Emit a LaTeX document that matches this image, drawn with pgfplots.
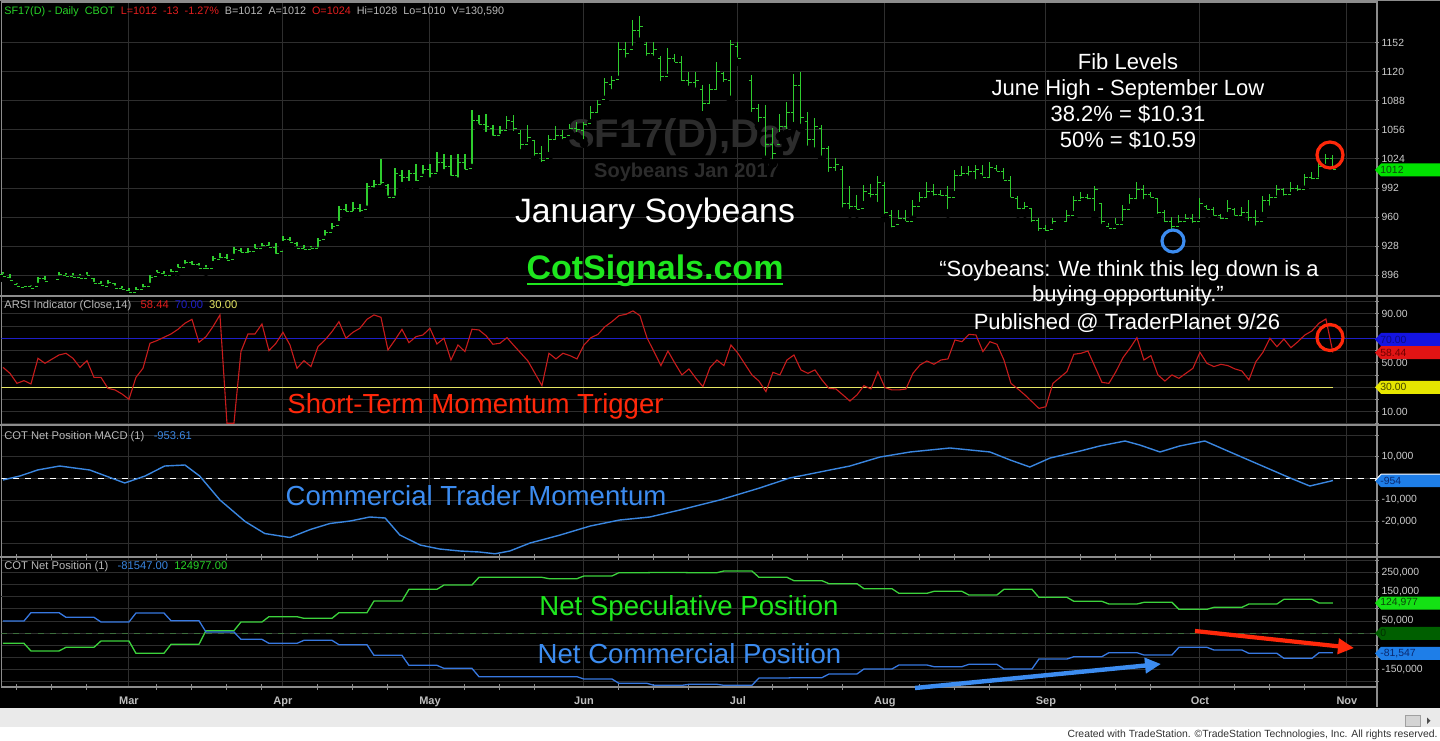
\documentclass[border=0pt]{standalone}
\usepackage{pgfplots}
\pgfplotsset{compat=1.18}
\usepackage{pgfplotstable}
\usepackage{fontspec}
\setmainfont{Liberation Sans}
\usetikzlibrary{arrows.meta}

\definecolor{barg}{RGB}{46,204,46}
\definecolor{gridc}{RGB}{46,46,46}
\definecolor{framec}{RGB}{140,140,140}
\definecolor{tickc}{RGB}{205,205,205}
\definecolor{hgreen}{RGB}{40,210,40}
\definecolor{hred}{RGB}{228,30,30}
\definecolor{hgray}{RGB}{185,185,185}
\definecolor{arsired}{RGB}{200,28,28}
\definecolor{arsiblue}{RGB}{30,30,200}
\definecolor{arsiyel}{RGB}{232,232,100}
\definecolor{macdblue}{RGB}{58,134,224}
\definecolor{cotgreen}{RGB}{60,210,60}
\definecolor{cotblue}{RGB}{55,120,225}
\definecolor{zgreen}{RGB}{60,110,60}
\definecolor{wm}{RGB}{44,44,44}
\definecolor{anred}{RGB}{255,40,10}
\definecolor{anblue}{RGB}{60,140,240}
\definecolor{angreen}{RGB}{30,230,30}
\definecolor{monthc}{RGB}{190,190,190}
\definecolor{stripc}{RGB}{234,234,234}
\definecolor{sbord}{RGB}{160,160,160}
\definecolor{thumbc}{RGB}{212,212,212}
\definecolor{credc}{RGB}{50,50,50}
\definecolor{tgA}{RGB}{0,225,0}\definecolor{ttA}{RGB}{15,70,15}
\definecolor{tgB}{RGB}{20,20,225}\definecolor{ttB}{RGB}{10,10,130}
\definecolor{tgC}{RGB}{225,20,20}\definecolor{ttC}{RGB}{110,0,0}
\definecolor{tgD}{RGB}{230,230,0}\definecolor{ttD}{RGB}{70,70,0}
\definecolor{tgE}{RGB}{30,126,232}\definecolor{ttE}{RGB}{10,40,110}
\definecolor{tgF}{RGB}{20,225,20}\definecolor{ttF}{RGB}{10,70,10}
\definecolor{tgG}{RGB}{0,95,0}\definecolor{ttG}{RGB}{0,45,0}

\pgfdeclareplotmark{otick}{\pgfpathmoveto{\pgfqpoint{-1.4pt}{0pt}}\pgfpathlineto{\pgfqpoint{0pt}{0pt}}\pgfusepathqstroke}
\pgfdeclareplotmark{ctick}{\pgfpathmoveto{\pgfqpoint{0pt}{0pt}}\pgfpathlineto{\pgfqpoint{1.4pt}{0pt}}\pgfusepathqstroke}

\newcommand{\fs}[1]{\fontsize{#1}{#1}\selectfont}

\pgfplotstableread{
d hi lo op cl
0 900 893 897 895
1 897 888 894 890
2 887 882 886 884
3 885 881 883 884
4 885 880 884 882
5 894 883 884 892
6 895 886 892 889
8 900 891 891 897
9 899 892 896 895
10 898 891 895 894
11 897 891 894 893
12 900 892 893 896
13 893 884 892 887
14 890 882 887 885
15 891 882 884 888
16 887 880 887 882
17 884 877 882 880
18 882 874 879 877
19 883 875 877 880
20 886 878 880 884
21 896 883 884 894
22 902 895 895 899
23 901 893 898 896
24 903 895 896 900
25 908 900 900 905
26 913 904 905 910
27 912 903 910 908
28 909 902 908 904
29 907 900 904 903
30 917 907 904 914
31 920 910 913 916
32 919 909 916 912
33 927 915 913 924
34 926 917 923 921
35 926 916 921 922
36 930 921 922 926
37 932 923 926 929
38 933 924 929 927
39 931 915 927 920
40 939 929 922 935
41 938 929 935 932
42 933 923 931 926
43 929 921 926 924
44 928 922 924 926
45 937 922 925 934
46 946 935 935 943
47 953 942 943 950
48 972 951 951 968
49 975 962 968 966
50 977 962 966 970
51 974 961 969 967
52 998 968 968 994
53 1001 988 994 996
54 1024 992 996 998
55 997 979 995 982
56 1014 979 982 1008
57 1012 994 1006 1004
58 1012 995 1004 1008
59 1019 995 1008 1000
60 1017 1003 1005 1012
61 1019 999 1012 1008
62 1032 1005 1008 1020
63 1030 1008 1020 1016
64 1028 1001 1016 1006
65 1030 999 1006 1020
66 1030 1008 1020 1012
67 1078 1014 1014 1066
68 1072 1058 1066 1062
69 1074 1049 1062 1060
70 1061 1045 1058 1050
71 1060 1047 1050 1055
72 1071 1052 1055 1066
73 1072 1050 1065 1058
74 1056 1030 1052 1040
75 1061 1038 1040 1048
76 1045 1023 1044 1030
77 1038 1016 1030 1022
78 1050 1027 1024 1045
79 1060 1041 1045 1050
80 1056 1041 1050 1048
81 1063 1052 1050 1058
82 1065 1049 1058 1056
83 1065 1041 1055 1062
84 1082 1063 1063 1075
85 1089 1071 1075 1084
86 1113 1089 1089 1108
87 1115 1096 1106 1110
88 1153 1111 1112 1145
89 1153 1131 1145 1140
90 1177 1144 1145 1165
91 1181 1153 1165 1170
92 1153 1133 1150 1140
93 1153 1133 1140 1145
94 1137 1105 1135 1115
95 1146 1113 1115 1135
96 1140 1126 1135 1130
97 1137 1105 1130 1110
98 1120 1100 1110 1108
99 1120 1098 1108 1110
100 1105 1072 1100 1085
101 1107 1080 1085 1100
102 1131 1096 1100 1120
103 1120 1104 1118 1112
104 1155 1089 1110 1150
105 1153 1131 1148 1135
107 1116 1071 1110 1080
108 1085 1060 1080 1070
109 1083 1023 1070 1040
110 1058 1019 1040 1030
111 1074 1049 1040 1060
112 1087 1052 1060 1075
113 1118 1060 1075 1105
114 1120 1058 1105 1070
115 1076 1034 1065 1045
116 1069 1032 1045 1060
117 1061 1023 1058 1035
118 1038 1005 1035 1015
119 1025 1006 1015 1018
120 1016 966 1012 975
121 994 964 975 972
122 984 964 972 968
123 995 973 970 988
124 997 977 986 985
125 1005 972 985 998
126 999 959 995 965
127 968 944 962 950
128 968 953 952 958
129 968 951 958 955
130 979 957 955 972
131 988 972 972 982
132 999 977 982 988
133 997 979 988 985
134 990 979 985 984
135 994 964 984 982
136 1012 984 982 1006
137 1016 1001 1006 1008
138 1016 1001 1008 1010
139 1017 997 1010 1012
140 1017 1001 1008 1004
141 1021 999 1004 1015
142 1017 1006 1014 1010
143 1014 997 1010 1000
144 1005 977 1000 982
145 983 964 980 970
146 977 964 970 972
147 970 950 970 956
148 959 940 956 948
149 951 940 948 945
150 959 948 946 955
152 968 951 955 962
153 983 962 962 978
154 988 975 978 982
155 986 975 982 980
156 994 962 980 990
157 975 948 975 955
158 953 946 950 948
159 959 948 948 952
160 973 951 952 968
161 986 970 968 980
162 999 975 980 990
163 995 975 990 985
164 988 977 985 982
165 981 959 980 965
166 968 950 965 955
167 960 942 955 950
168 962 949 950 955
169 964 953 955 958
170 964 949 958 955
171 981 953 955 975
172 973 964 972 968
173 971 957 968 962
174 964 953 962 958
175 979 961 958 970
176 970 957 968 962
177 971 957 962 965
178 979 951 965 960
179 968 946 960 955
180 983 961 955 978
181 986 968 978 982
182 995 979 982 990
183 992 979 990 985
184 999 983 985 992
185 995 984 992 990
186 1008 990 990 1004
187 1010 997 1004 1002
188 1021 999 1002 1016
189 1030 1014 1016 1025
190 1028 1010 1024 1012
}\price

\pgfplotstableread{
d v
0 46.3
1 41.4
2 33.2
3 35.4
4 32.7
5 53.7
6 49.6
8 56.4
9 57.8
10 53.7
11 46.3
12 51.8
13 38.1
14 38.1
15 29.1
16 27.8
17 24.5
18 20.1
19 38.1
20 45.5
21 66.0
22 68.2
23 70.9
24 73.6
25 77.4
26 82.4
27 85.6
28 66.8
29 71.4
30 79.6
31 89.2
32 0.5
33 0.5
34 59.2
35 73.6
36 73.6
37 81.8
38 60.0
39 66.0
40 75.0
41 64.6
42 45.5
43 51.8
44 46.9
45 63.2
46 68.7
47 75.5
48 83.7
49 70.1
50 75.0
51 78.3
52 85.6
53 89.2
54 87.3
55 60.5
56 68.7
57 77.4
58 66.5
59 71.4
60 72.8
61 78.3
62 65.4
63 70.1
64 52.3
65 64.6
66 59.2
67 77.5
68 76.9
69 72.3
70 65.2
71 66.0
72 70.6
73 64.1
74 57.8
75 51.5
76 41.4
77 31.3
78 57.8
79 53.2
80 57.8
81 55.9
82 53.2
83 64.6
84 70.6
85 73.3
86 79.6
87 83.7
88 88.6
89 89.7
90 92.5
91 88.6
92 70.6
93 59.2
94 47.7
95 59.7
96 49.6
97 40.1
98 45.0
99 37.3
100 30.5
101 46.1
102 52.3
103 47.7
104 64.6
105 57.8
107 40.1
108 35.1
109 26.4
110 42.2
111 40.1
112 52.3
113 56.4
114 44.2
115 41.4
116 44.2
117 36.0
118 29.1
119 28.6
120 23.7
121 18.7
122 23.7
123 31.3
124 28.6
125 42.8
126 29.7
127 27.8
128 27.8
129 28.6
130 41.4
131 48.2
132 51.5
133 48.8
134 52.3
135 53.2
136 68.7
137 67.3
138 73.3
139 72.8
140 59.2
141 67.3
142 65.2
143 52.3
144 33.2
145 28.6
146 23.7
147 18.2
148 12.7
149 14.1
150 33.2
152 42.8
153 57.0
154 57.8
155 59.7
156 46.9
157 34.0
158 33.2
159 42.8
160 54.2
161 61.9
162 70.6
163 52.3
164 55.9
165 40.1
166 35.1
167 40.1
168 37.3
169 41.4
170 45.5
171 58.6
172 49.6
173 46.9
174 48.8
175 47.7
176 45.0
177 43.3
178 36.0
179 51.0
180 58.6
181 70.1
182 63.2
183 69.5
184 62.4
185 67.3
186 72.8
187 76.1
188 82.4
189 85.9
190 58.44
}\arsi

\pgfplotstableread{
d v
0 -700
2.4 1160
5 4000
8.1 5810
12.4 3950
17.4 -2090
20.3 1160
23.1 5810
26 6280
28.1 1160
31 -10000
34.6 -20000
37.4 -25580
41 -27440
43.9 -23720
46.7 -20930
49.6 -19770
52.4 -17900
54.6 -18370
56.7 -26280
59.6 -30930
62.4 -32790
65.3 -33720
68.1 -34190
70.3 -35000
72.4 -33720
75.3 -30000
79.6 -26280
83.9 -22090
88.1 -19300
92.4 -17900
96.7 -14650
102.4 -10000
108.1 -4420
112.4 230
116.7 3020
121 5810
125.3 10000
129.6 12330
135.3 14190
141 12330
143.9 8600
146.7 5350
149.6 9530
153.9 12790
156.7 15120
160.3 17440
162.4 15580
165.3 12330
168.1 15120
171.7 17440
175.3 12330
179.6 6280
183.9 230
186.7 -3490
190 -954
}\macd

\pgfplotstableread{
d g b
0 -42400 50100
3 -42400 50100
4 -74100 84600
8 -74100 84600
9 -58900 65300
13 -58900 65300
14 -32700 46000
18 -32700 46000
19 -83800 83200
23 -83800 83200
24 -46500 51500
28 -46500 51500
29 10100 4600
33 10100 4600
34 46000 -25800
37 46000 -25800
38 68000 -42400
42 68000 -42400
43 61200 -29900
47 61200 -29900
48 84600 -47900
52 84600 -47900
53 132900 -92100
57 132900 -92100
58 181300 -133500
62 181300 -133500
63 199200 -145900
67 199200 -145900
68 231000 -180400
77 231000 -180400
78 225400 -180400
82 225400 -180400
83 236500 -190100
87 236500 -190100
88 250200 -208000
92 250200 -208000
93 251000 -216300
97 251000 -216300
98 250200 -212000
102 250200 -212000
103 257200 -216300
107 257200 -216300
108 231000 -185900
112 231000 -185900
113 217100 -184500
117 217100 -184500
118 204700 -169400
122 204700 -169400
123 184000 -148700
127 184000 -148700
128 164700 -132100
132 164700 -132100
133 173000 -139000
137 173000 -139000
138 157800 -129300
142 157800 -129300
143 181300 -148700
147 181300 -148700
148 148100 -107300
152 148100 -107300
153 131600 -97600
157 131600 -97600
158 120500 -81000
162 120500 -81000
163 127400 -90700
167 127400 -90700
168 98400 -58900
172 98400 -58900
173 106700 -70000
177 106700 -70000
178 120500 -83800
182 120500 -83800
183 139800 -104500
187 139800 -104500
188 124977 -81547
190 124977 -81547
}\cot

\pgfplotsset{
 panel/.style={
  scale only axis, width=687.75pt, xmin=-0.21, xmax=196.3,
  anchor=south west,
  axis line style={framec, line width=0.6pt},
  xtick={18,40,61,83,105,126,149,171,192},
  xticklabels={},
  major x tick style={draw=none},
  xmajorgrids, ymajorgrids, yminorgrids,
  grid style={gridc, line width=0.5pt},
  minor grid style={gridc, line width=0.5pt},
  ytick pos=right, yticklabel pos=right,
  tick align=center, major tick length=1.6pt, minor tick length=1.6pt,
  ytick style={framec, line width=0.5pt},
  yticklabel style={text=tickc, font=\fs{5.2}, anchor=west, xshift=-2pt},
  scaled y ticks=false,
  /pgf/number format/assume math mode=true,
 }}

\newcommand{\tagbox}[4]{%
 \fill[#2] (1375,#1) -- (1381,#1-6.5) -- (1440,#1-6.5) -- (1440,#1+6.5) -- (1381,#1+6.5) -- cycle;
 \node[anchor=west, text=#3, font=\fs{5.2}, inner sep=0pt] at (1380,#1) {#4};}

\begin{document}
\begin{tikzpicture}
\useasboundingbox (0,0) rectangle (720pt,370pt);
\fill[black] (0,0) rectangle (720pt,370pt);
\begin{scope}[shift={(0,370pt)}, x=0.5pt, y=-0.5pt]
 \fill[stripc] (0,708) rectangle (1440,727);
 \fill[white] (0,727) rectangle (1440,740);
 \draw[sbord, fill=thumbc, line width=0.4pt] (1405,715.5) rectangle (1420,726);
 \fill[black!70] (1427,717.5) -- (1427,724) -- (1430.5,720.75) -- cycle;
 \node[anchor=base east, text=credc, font=\fs{5.2}, inner sep=0pt] at (1438,737) {Created with TradeStation. ©TradeStation Technologies, Inc. All rights reserved.};
 \node[anchor=base, text=wm, font=\bfseries\fs{20}, inner sep=0pt] at (686,148) {SF17(D),Day};
 \node[anchor=base, text=wm, font=\bfseries\fs{10}, inner sep=0pt] at (686.5,178) {Soybeans Jan 2017};
\end{scope}

% Panel 1: price
\begin{axis}[panel, at={(0.75pt,222pt)}, height=147pt,
  ymin=873.2, ymax=1196.8, ytick={896,928,...,1152},
  yticklabel style={/pgf/number format/.cd, fixed, 1000 sep={}}]
\addplot[only marks, mark=none, error bars/.cd, y dir=plus, y explicit,
  error bar style={barg, line width=0.55pt}, error mark=none]
  table[x=d, y=lo, y error expr=\thisrow{hi}-\thisrow{lo}] {\price};
\addplot[only marks, mark=otick, mark options={barg, line width=0.5pt}] table[x=d, y=op] {\price};
\addplot[only marks, mark=ctick, mark options={barg, line width=0.5pt}] table[x=d, y=cl] {\price};
\end{axis}

% Panel 2: ARSI
\begin{axis}[panel, at={(0.75pt,157.5pt)}, height=64.5pt,
  ymin=-0.9, ymax=104.7, ytick={10,30,50,70,90}, minor ytick={0,20,40,60,80,100},
  yticklabels={10.00,,50.00,,90.00}]
\addplot[arsiblue, line width=0.6pt] coordinates {(-0.21,70) (196.3,70)};
\addplot[arsiyel, line width=0.6pt] coordinates {(-0.21,30) (190,30)};
\addplot[arsired, line width=0.55pt] table[x=d, y=v] {\arsi};
\end{axis}

% Panel 3: MACD
\begin{axis}[panel, at={(0.75pt,91.5pt)}, height=66pt,
  ymin=-36500, ymax=24880, ytick={-20000,-10000,0,10000}, minor ytick={-30000,20000},
  yticklabels={{-20,000},{-10,000},,{10,000}}]
\addplot[white, dashed, line width=0.5pt] coordinates {(-0.21,0) (196.3,0)};
\addplot[macdblue, line width=0.7pt] table[x=d, y=v] {\macd};
\end{axis}

% Panel 4: COT
\begin{axis}[panel, at={(0.75pt,26.5pt)}, height=65pt,
  ymin=-223200, ymax=315100, ytick={-150000,-50000,50000,250000},
  minor ytick={-200000,-100000,0,100000,200000,300000},
  yticklabels={{-150,000},,{50,000},{250,000}},
  extra y ticks={150000}, extra y tick labels={150{,}000},
  extra y tick style={yticklabel style={yshift=2.6pt}},
  xticklabels={Mar,Apr,May,Jun,Jul,Aug,Sep,Oct,Nov},
  xticklabel style={text=monthc, font=\bfseries\fs{5.5}, anchor=base, yshift=-7.9pt},
  extra x ticks={2,7,12,22,27,32,37,45,50,55,66,71,76,88,93,98,110,115,120,131,136,141,154,159,164,176,181,186},
  extra x tick labels={},
  extra x tick style={grid=none, major x tick style={draw=framec, line width=0.5pt}, major tick length=3pt}]
\addplot[zgreen, dashed, line width=0.5pt] coordinates {(-0.21,0) (196.3,0)};
\addplot[cotgreen, line width=0.65pt] table[x=d, y=g] {\cot};
\addplot[cotblue, line width=0.65pt] table[x=d, y=b] {\cot};
\end{axis}

\begin{scope}[shift={(0,370pt)}, x=0.5pt, y=-0.5pt]
 \draw[framec, line width=0.6pt] (0,296) -- (1440,296);
 \draw[framec, line width=0.6pt] (0,425) -- (1440,425);
 \draw[framec, line width=0.6pt] (0,557) -- (1440,557);
 \draw[framec, line width=0.6pt] (0,0.6) -- (1440,0.6);
 \draw[framec, line width=0.6pt] (1377,0) -- (1377,707);
 \node[anchor=base west, inner sep=0pt, font=\fs{5.4}] at (4,14.5) {\textcolor{hgreen}{SF17(D) - Daily\ \ CBOT}\ \ \textcolor{hred}{L=1012\ \ -13\ \ -1.27\%}\ \ \textcolor{hgray}{B=1012\ \ A=1012}\ \ \textcolor{hred}{O=1024}\ \ \textcolor{hgray}{Hi=1028\ \ Lo=1010\ \ V=130,590}};
 \node[anchor=base west, inner sep=0pt, font=\fs{5.6}] at (4,309) {\textcolor{hgray}{ARSI Indicator (Close,14)}\ \ \ \textcolor{hred}{58.44}\ \ \textcolor{arsiblue}{70.00}\ \ \textcolor{arsiyel}{30.00}};
 \node[anchor=base west, inner sep=0pt, font=\fs{5.6}] at (4,439) {\textcolor{hgray}{COT Net Position MACD (1)}\ \ \ \textcolor{macdblue}{-953.61}};
 \node[anchor=base west, inner sep=0pt, font=\fs{5.6}] at (4,569) {\textcolor{hgray}{COT Net Position (1)}\ \ \ \textcolor{macdblue}{-81547.00}\ \ \textcolor{hgreen}{124977.00}};
 \node[anchor=base, inner sep=0pt, text=white, font=\fs{16.9}] at (655,222.5) {January Soybeans};
 \node[anchor=base, inner sep=0pt, text=angreen, font=\bfseries\fs{17}] at (655,280) {CotSignals.com};
 \draw[angreen, line width=1pt] (527,284.5) -- (783,284.5);
 \node[anchor=base, inner sep=0pt, text=white, font=\fs{11}] at (1128,70) {Fib Levels};
 \node[anchor=base, inner sep=0pt, text=white, font=\fs{11}] at (1128,96) {June High - September Low};
 \node[anchor=base, inner sep=0pt, text=white, font=\fs{11}] at (1128,122) {38.2\% = \$10.31};
 \node[anchor=base, inner sep=0pt, text=white, font=\fs{11}] at (1128,148) {50\% = \$10.59};
 \node[anchor=base, inner sep=0pt, text=white, font=\fs{11}] at (1129,277) {“Soybeans: We think this leg down is a};
 \node[anchor=base, inner sep=0pt, text=white, font=\fs{11}] at (1128,302) {buying opportunity.”};
 \node[anchor=base, inner sep=0pt, text=white, font=\fs{11}] at (1127,330) {Published @ TraderPlanet 9/26};
 \node[anchor=base, inner sep=0pt, text=anred, font=\fs{13.8}] at (475.5,413) {Short-Term Momentum Trigger};
 \node[anchor=base, inner sep=0pt, text=anblue, font=\fs{13.8}] at (476,505) {Commercial Trader Momentum};
 \node[anchor=base, inner sep=0pt, text=angreen, font=\fs{13.8}] at (689,615) {Net Speculative Position};
 \node[anchor=base, inner sep=0pt, text=anblue, font=\fs{13.8}] at (689.5,663) {Net Commercial Position};
 \draw[anred, line width=1.6pt] (1330,155) circle[radius=13];
 \draw[anblue, line width=1.6pt] (1173,241) circle[radius=11];
 \draw[anred, line width=1.6pt] (1330,337.5) circle[radius=13];
 \draw[anred, line width=2.1pt, -{Triangle[length=8pt,width=7.5pt]}] (1195,631) -- (1354,648);
 \draw[anblue, line width=2.2pt, -{Triangle[length=8pt,width=7.5pt]}] (915,688) -- (1161,664);
 \tagbox{170}{tgA}{ttA}{1012}
 \tagbox{339.5}{tgB}{ttB}{70.00}
 \tagbox{352.7}{tgC}{ttC}{58.44}
 \tagbox{387.3}{tgD}{ttD}{30.00}
 \tagbox{480.7}{tgE}{ttE}{-954}
 \draw[white, line width=0.5pt] (1375,480.7) -- (1381,474.2) -- (1440,474.2);
 \tagbox{603}{tgF}{ttF}{124,977}
 \tagbox{633.3}{tgG}{ttG}{0}
 \tagbox{653.3}{tgE}{ttE}{-81,547}
\end{scope}
\end{tikzpicture}
\end{document}
